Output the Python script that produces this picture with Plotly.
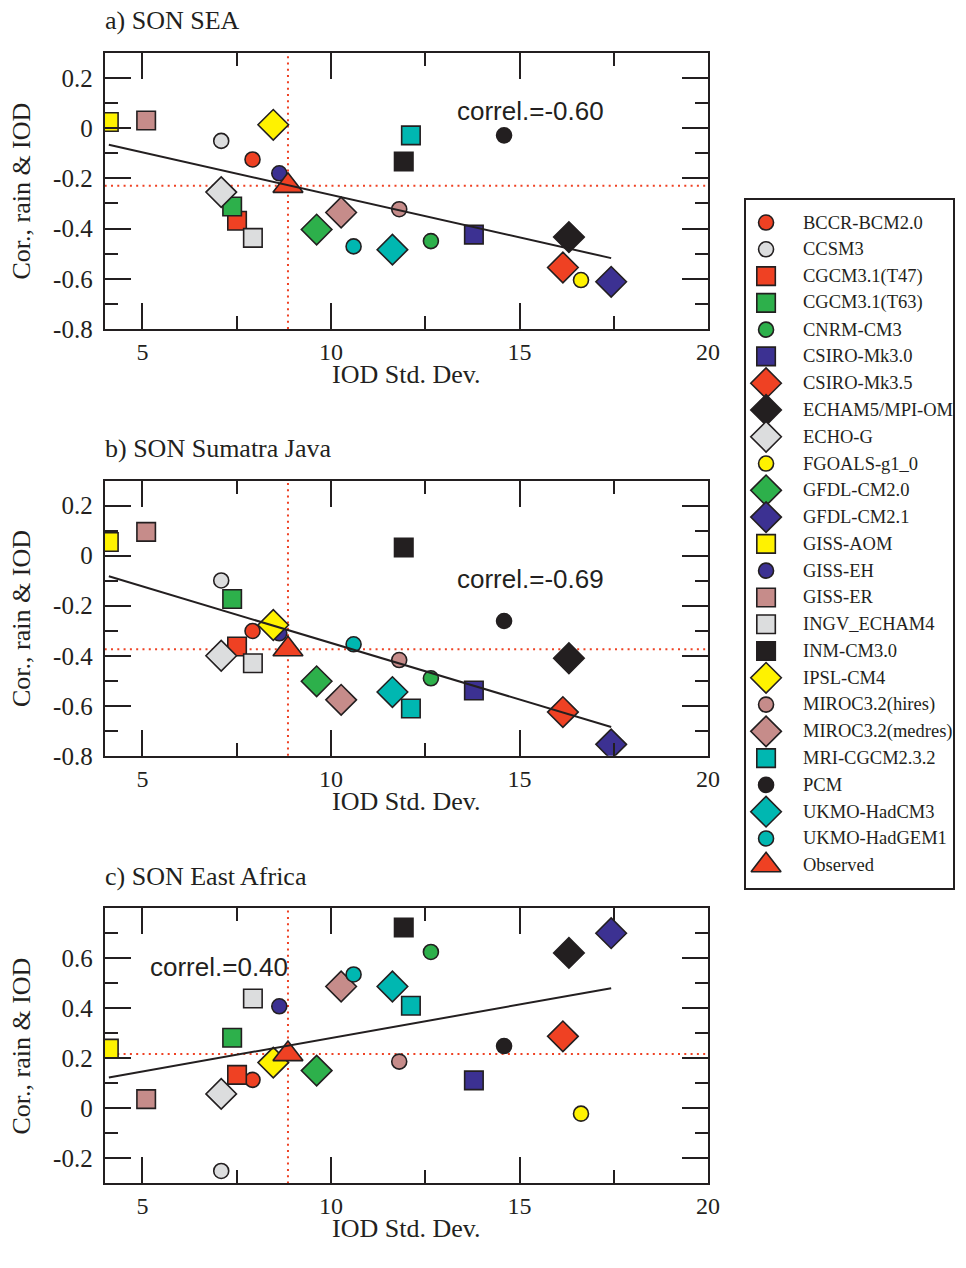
import numpy as np
import plotly.graph_objects as go

# ---- data -------------------------------------------------------------
models = ["BCCR-BCM2.0", "CCSM3", "CGCM3.1(T47)", "CGCM3.1(T63)", "CNRM-CM3",
          "CSIRO-Mk3.0", "CSIRO-Mk3.5", "ECHAM5/MPI-OM", "ECHO-G", "FGOALS-g1_0",
          "GFDL-CM2.0", "GFDL-CM2.1", "GISS-AOM", "GISS-EH", "GISS-ER",
          "INGV_ECHAM4", "INM-CM3.0", "IPSL-CM4", "MIROC3.2(hires)",
          "MIROC3.2(medres)", "MRI-CGCM2.3.2", "PCM", "UKMO-HadCM3", "UKMO-HadGEM1"]

# IOD standard deviation of each model
iod_std = [7.92, 7.09, 7.51, 7.38, 12.65, 13.79, 16.15, 16.31, 7.09, 16.63,
           9.62, 17.43, 4.11, 8.63, 5.10, 7.93, 11.93, 8.47, 11.81, 10.27,
           12.12, 14.59, 11.63, 10.60]

# correlation between SON rainfall and the IOD
cor_sea = [-0.125, -0.051, -0.369, -0.312, -0.450, -0.424, -0.555, -0.434, -0.255, -0.605,
           -0.404, -0.612, 0.024, -0.180, 0.030, -0.437, -0.133, 0.013, -0.323, -0.336,
           -0.029, -0.029, -0.484, -0.471]
cor_sumatra_java = [-0.301, -0.099, -0.363, -0.173, -0.490, -0.539, -0.625, -0.410, -0.400, -0.870,
                    -0.502, -0.754, 0.055, -0.310, 0.095, -0.430, 0.033, -0.277, -0.417, -0.576,
                    -0.611, -0.261, -0.545, -0.354]
cor_east_africa = [0.114, -0.250, 0.134, 0.282, 0.625, 0.112, 0.288, 0.621, 0.058, -0.021,
                   0.151, 0.700, 0.239, 0.408, 0.037, 0.439, 0.723, 0.183, 0.187, 0.487,
                   0.410, 0.249, 0.487, 0.535]

obs_iod_std = 8.86
obs_cor = [-0.230, -0.374, 0.217]

panel_titles = ["a) SON SEA", "b) SON Sumatra Java", "c) SON East Africa"]
correl_labels = ["correl.=-0.60", "correl.=-0.69", "correl.=0.40"]
correl_pos = [(15.30, 0.066), (15.30, -0.094), (7.04, 0.563)]

x_ticks = [5, 10, 15, 20]
x_minor = [7.5, 12.5, 17.5]
y_ticks_ab = [-0.8, -0.6, -0.4, -0.2, 0, 0.2]
y_text_ab = ["-0.8", "-0.6", "-0.4", "-0.2", "0", "0.2"]
y_minor_ab = [-0.7, -0.5, -0.3, -0.1, 0.1]
y_ticks_c = [-0.2, 0, 0.2, 0.4, 0.6]
y_text_c = ["-0.2", "0", "0.2", "0.4", "0.6"]
y_minor_c = [-0.1, 0.1, 0.3, 0.5, 0.7]

# ---- marker styles -----------------------------------------------------
RED, GREY, GREEN, BLUE = "#EF4123", "#DCDDDE", "#2DB04B", "#3C3192"
BLACK, YELLOW, PINK, CYAN = "#231F20", "#FFF200", "#C68C8A", "#00B7B1"

symbols = ["circle", "circle", "square", "square", "circle", "square", "diamond",
           "diamond", "diamond", "circle", "diamond", "diamond", "square", "circle",
           "square", "square", "square", "diamond", "circle", "diamond", "square",
           "circle", "diamond", "circle"]
colors = [RED, GREY, RED, GREEN, GREEN, BLUE, RED, BLACK, GREY, YELLOW, GREEN, BLUE,
          YELLOW, BLUE, PINK, GREY, BLACK, YELLOW, PINK, PINK, CYAN, BLACK, CYAN, CYAN]
size_of = {"circle": 15, "square": 18.5, "diamond": 23.5, "triangle-up": 26}
sizes = [size_of[s] for s in symbols]

W, H = 966, 1268
INK = "#231F20"
SERIF = "Liberation Serif, Times New Roman, serif"
SANS = "Liberation Sans, Arial, sans-serif"

# panel frames in pixels (left, right, top, bottom)
px_left, px_right = 106, 717
panel_tops = [53.3, 486.0, 918.3]
panel_bottoms = [332.7, 764.3, 1196.7]

fig = go.Figure()
panels = [cor_sea, cor_sumatra_java, cor_east_africa]
marker_line = dict(color=INK, width=1.6)

for i, cor in enumerate(panels):
    xa = "x" if i == 0 else f"x{i + 1}"
    ya = "y" if i == 0 else f"y{i + 1}"
    # models
    fig.add_trace(go.Scatter(
        x=iod_std, y=cor, mode="markers", xaxis=xa, yaxis=ya, showlegend=False,
        marker=dict(symbol=symbols, color=colors, size=sizes, opacity=1,
                    line=marker_line),
        hovertext=models))
    # observed
    fig.add_trace(go.Scatter(
        x=[obs_iod_std], y=[obs_cor[i]], mode="markers", xaxis=xa, yaxis=ya,
        showlegend=False,
        marker=dict(symbol="triangle-up", color=RED, size=size_of["triangle-up"],
                    opacity=1, line=marker_line)))
    # least-squares fit across the models
    slope, icpt = np.polyfit(iod_std, cor, 1)
    xf = np.array([min(iod_std), max(iod_std)])
    fig.add_trace(go.Scatter(
        x=xf, y=slope * xf + icpt, mode="lines", xaxis=xa, yaxis=ya,
        showlegend=False, line=dict(color=INK, width=2)))

# ---- axes --------------------------------------------------------------
layout = {}
for i in range(3):
    sfx = "" if i == 0 else str(i + 1)
    y0 = 1 - panel_bottoms[i] / H
    y1 = 1 - panel_tops[i] / H
    layout[f"xaxis{sfx}"] = dict(
        domain=[px_left / W, px_right / W], range=[4, 20], anchor=f"y{sfx}",
        tickmode="array", tickvals=x_ticks, ticktext=[str(v) for v in x_ticks],
        ticks="inside", ticklen=26, tickwidth=2, tickcolor=INK,
        minor=dict(tickmode="array", tickvals=x_minor, ticklen=13, tickwidth=2,
                   tickcolor=INK, ticks="inside", showgrid=False),
        showline=True, linewidth=2, linecolor=INK, mirror="allticks",
        showgrid=False, zeroline=False, fixedrange=True,
        tickfont=dict(family=SERIF, size=24, color=INK), ticklabelstandoff=0)
    if i < 2:
        yr, yt, ytt, ym = [-0.8, 0.3], y_ticks_ab, y_text_ab, y_minor_ab
    else:
        yr, yt, ytt, ym = [-0.3, 0.8], y_ticks_c, y_text_c, y_minor_c
    layout[f"yaxis{sfx}"] = dict(
        domain=[y0, y1], range=yr, anchor=f"x{sfx}",
        tickmode="array", tickvals=yt, ticktext=ytt,
        ticks="inside", ticklen=26, tickwidth=2, tickcolor=INK,
        minor=dict(tickmode="array", tickvals=ym, ticklen=13, tickwidth=2,
                   tickcolor=INK, ticks="inside", showgrid=False),
        showline=True, linewidth=2, linecolor=INK, mirror="allticks",
        showgrid=False, zeroline=False, fixedrange=True,
        tickfont=dict(family=SERIF, size=25, color=INK), ticklabelstandoff=5)

# legend panel
leg_l, leg_r, leg_t, leg_b = 755, 965, 202.3, 898.3
row_h, row0 = 27.08, 22.7
layout["xaxis4"] = dict(domain=[leg_l / W, leg_r / W], range=[0, leg_r - leg_l],
                        anchor="y4", visible=True, showticklabels=False, ticks="",
                        showgrid=False, zeroline=False, showline=True, mirror=True,
                        linewidth=1.5, linecolor=INK, fixedrange=True)
layout["yaxis4"] = dict(domain=[1 - leg_b / H, 1 - leg_t / H],
                        range=[(leg_b - leg_t - row0) / row_h, -row0 / row_h],
                        anchor="x4", showticklabels=False, ticks="",
                        showgrid=False, zeroline=False, showline=True, mirror=True,
                        linewidth=1.5, linecolor=INK, fixedrange=True)

leg_names = models + ["Observed"]
leg_symbols = symbols + ["triangle-up"]
leg_colors = colors + [RED]
leg_rows = list(range(len(leg_names)))
fig.add_trace(go.Scatter(
    x=[20.7] * len(leg_names), y=leg_rows, mode="markers", xaxis="x4", yaxis="y4",
    showlegend=False, hovertext=leg_names,
    marker=dict(symbol=leg_symbols, color=leg_colors, opacity=1,
                size=[size_of[s] for s in leg_symbols], line=marker_line)))

annotations = []
for r, name in zip(leg_rows, leg_names):
    annotations.append(dict(x=56.5, y=r, xref="x4", yref="y4", text=name,
                            showarrow=False, xanchor="left", yanchor="middle",
                            font=dict(family=SERIF, size=18.5, color=INK)))

shapes = []
for i in range(3):
    sfx = "" if i == 0 else str(i + 1)
    top, bot = panel_tops[i], panel_bottoms[i]
    # panel title
    annotations.append(dict(x=px_left / W, y=1 - (top - 32.3) / H, xref="paper", yref="paper",
                            text=panel_titles[i], showarrow=False, xanchor="left",
                            yanchor="middle", xshift=-2,
                            font=dict(family=SERIF, size=26, color=INK)))
    # axis titles
    annotations.append(dict(x=(px_left + px_right) / 2 / W, y=1 - (bot + 46.0) / H,
                            xref="paper", yref="paper", text="IOD Std. Dev.",
                            showarrow=False, xanchor="center", yanchor="middle",
                            font=dict(family=SERIF, size=26, color=INK)))
    annotations.append(dict(x=22 / W, y=1 - (top + bot) / 2 / H, xref="paper", yref="paper",
                            text="Cor., rain & IOD", showarrow=False, textangle=-90,
                            xanchor="center", yanchor="middle",
                            font=dict(family=SERIF, size=26, color=INK)))
    # correlation label
    cx, cy = correl_pos[i]
    annotations.append(dict(x=cx, y=cy, xref=f"x{sfx}", yref=f"y{sfx}",
                            text=correl_labels[i], showarrow=False,
                            xanchor="center", yanchor="middle",
                            font=dict(family=SANS, size=26, color=INK)))
    # observed reference lines
    dot = dict(color=RED, width=2, dash="2px,4.3px")
    shapes.append(dict(type="line", xref=f"x{sfx}", yref=f"y{sfx} domain",
                       x0=obs_iod_std, x1=obs_iod_std, y0=0, y1=1, line=dot, layer="below"))
    shapes.append(dict(type="line", xref=f"x{sfx} domain", yref=f"y{sfx}",
                       x0=0, x1=1, y0=obs_cor[i], y1=obs_cor[i], line=dot, layer="below"))

fig.update_layout(
    width=W, height=H, margin=dict(l=0, r=0, t=0, b=0),
    paper_bgcolor="white", plot_bgcolor="white", showlegend=False,
    annotations=annotations, shapes=shapes, **layout)

fig.write_html("out.html")
